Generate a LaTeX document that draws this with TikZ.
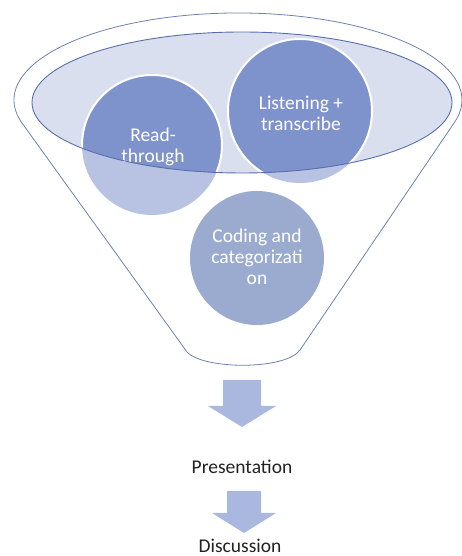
\documentclass[tikz,border=0pt]{standalone}
\usepackage{fontspec}
\setmainfont{Carlito}
\usepackage{tikz}
\definecolor{edge}{HTML}{6F81B0}
\definecolor{lidline}{HTML}{5A6FAA}
\definecolor{lid}{HTML}{DADFEF}
\definecolor{soft}{HTML}{B8C3E3}
\definecolor{deep}{HTML}{7E92CB}
\definecolor{slate}{HTML}{9AABCF}
\definecolor{flow}{HTML}{AAB8E0}
\definecolor{ink}{HTML}{222222}

\begin{document}
\begin{tikzpicture}[x=1pt, y=1pt,
  % the words inside the circles, white on blue
  word/.style  = {font=\fontsize{19.5}{21}\selectfont, text=white, align=center, inner sep=0pt},
  stage/.style = {font=\fontsize{19.5}{21}\selectfont, text=ink, inner sep=0pt},
  funnel/.style = {draw=edge, line width=0.8pt},
  % block arrows between the stages
  blockarrow/.style = {fill=flow, draw=none},
]
\useasboundingbox (0,0) rectangle (462,556);

% ------------------------------------------------------------------ funnel --
\draw[funnel] (21.63,433.48)
  arc[start angle=195, end angle=-15, x radius=224pt, y radius=87pt]
  -- (300,206) .. controls (286,186) and (204,186) .. (187,204) -- cycle;

% --------------------------------------------------------------------- lid --
\coordinate (lidc) at (242,453.5);
\fill[lid] (lidc) ellipse [x radius=210pt, y radius=70.5pt];

% ----------------------------------------------------------------- circles --
\coordinate (cread) at (152,411);
\coordinate (clist) at (300,445);
\coordinate (ccode) at (257,298);
\fill[soft] (cread) circle (70pt);
\fill[soft] (clist) circle (72pt);
\fill[slate] (ccode) circle (67pt);
\begin{scope}
  \clip (lidc) ellipse [x radius=210pt, y radius=70.5pt];
  \fill[deep] (cread) circle (70pt);
  \fill[deep] (clist) circle (72pt);
  \draw[white, line width=2pt] (cread) circle (70pt);
  \draw[white, line width=2pt] (clist) circle (72pt);
\end{scope}

\node[word] (read)   at (153,409) {Read-\\through};
\node[word] (listen) at (301,443) {Listening +\\transcribe};
\node[word] (code)   at (257,299) {Coding and\\categorizati\\on};

\draw[lidline, line width=0.9pt] (lidc) ellipse [x radius=210pt, y radius=70.5pt];

% ------------------------------------------------------------------ stages --
\coordinate (arrA) at (242,176);
\fill[blockarrow] (arrA) ++(-19,0) -- ++(38,0) -- ++(0,-26) -- ++(15,0)
  -- ++(-34,-21) -- ++(-34,21) -- ++(15,0) -- cycle;
\node[stage] (present) at (242,89) {Presentation};

\coordinate (arrB) at (244,65);
\fill[blockarrow] (arrB) ++(-17,0) -- ++(34,0) -- ++(0,-22) -- ++(15,0)
  -- ++(-32,-20) -- ++(-32,20) -- ++(15,0) -- cycle;
\node[stage] (discuss) at (240,10) {Discussion};

\end{tikzpicture}
\end{document}
